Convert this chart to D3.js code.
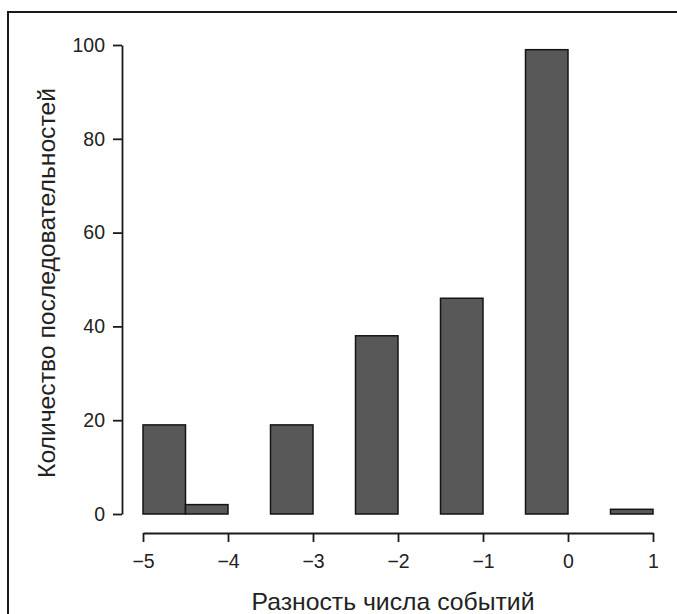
<!DOCTYPE html>
<html>
<head>
<meta charset="utf-8">
<script src="https://cdn.jsdelivr.net/npm/d3@7"></script>
<style>
  html, body { margin: 0; padding: 0; background: #fff; }
  svg { display: block; font-family: "Liberation Sans", Arial, sans-serif; }
</style>
</head>
<body>
<svg id="chart" width="677" height="614"></svg>
<script>
const binStarts = [-5, -4.5, -4, -3.5, -3, -2.5, -2, -1.5, -1, -0.5, 0, 0.5];
const binWidth = 0.5;
const counts = [19, 2, 0, 19, 0, 38, 0, 46, 0, 99, 0, 1];
const xTicks = [-5, -4, -3, -2, -1, 0, 1];
const yTicks = [0, 20, 40, 60, 80, 100];
const xTitle = "Разность числа событий";
const yTitle = "Количество последовательностей";

const svg = d3.select("#chart");

// frame (cropped figure border)
svg.append("rect")
  .attr("x", 8).attr("y", 12)
  .attr("width", 720).attr("height", 720)
  .attr("fill", "none").attr("stroke", "#1a1a1a").attr("stroke-width", 2);

const x = d3.scaleLinear().domain([-5, 1]).range([143, 653]);
const y = d3.scaleLinear().domain([0, 100]).range([514, 45]);
const fmt = d3.format("d");

// bars
svg.append("g").selectAll("rect")
  .data(binStarts.map((s, i) => ({ s, c: counts[i] })))
  .join("rect")
  .attr("x", d => x(d.s))
  .attr("width", d => x(d.s + binWidth) - x(d.s))
  .attr("y", d => y(d.c))
  .attr("height", d => y(0) - y(d.c))
  .attr("fill", "#585858")
  .attr("stroke", "#151515")
  .attr("stroke-width", 1.5);

// x axis
const xAxis = svg.append("g")
  .attr("transform", "translate(0,533)")
  .call(d3.axisBottom(x).tickValues(xTicks).tickFormat(fmt).tickSize(9).tickSizeOuter(0).tickPadding(12));

// y axis
const yAxis = svg.append("g")
  .attr("transform", "translate(122,0)")
  .call(d3.axisLeft(y).tickValues(yTicks).tickFormat(fmt).tickSize(9).tickSizeOuter(0).tickPadding(8));

[xAxis, yAxis].forEach(g => {
  g.select(".domain").attr("stroke", "#1a1a1a").attr("stroke-width", 1.8);
  g.selectAll(".tick line").attr("stroke", "#1a1a1a").attr("stroke-width", 1.8);
  g.selectAll(".tick text")
    .attr("fill", "#222")
    .style("font-size", "19.5px")
    .style("font-family", "'Liberation Sans', Arial, sans-serif");
});

// titles
svg.append("text")
  .attr("x", 393).attr("y", 610)
  .attr("text-anchor", "middle")
  .attr("fill", "#222")
  .attr("textLength", 283)
  .attr("lengthAdjust", "spacingAndGlyphs")
  .style("font-size", "24px")
  .text(xTitle);

svg.append("text")
  .attr("transform", "translate(55,283) rotate(-90)")
  .attr("text-anchor", "middle")
  .attr("fill", "#222")
  .attr("textLength", 390)
  .attr("lengthAdjust", "spacingAndGlyphs")
  .style("font-size", "24px")
  .text(yTitle);
</script>
</body>
</html>
